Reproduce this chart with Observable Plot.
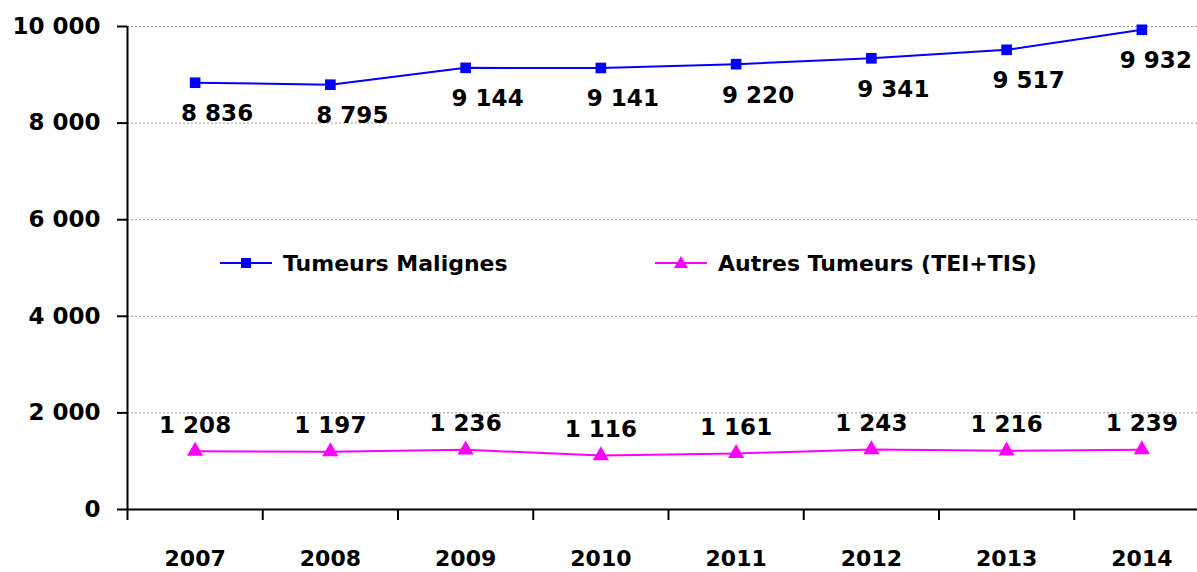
<!DOCTYPE html>
<html>
<head>
<meta charset="utf-8">
<script src="https://cdn.jsdelivr.net/npm/d3@7"></script>
<script src="https://cdn.jsdelivr.net/npm/@observablehq/plot@0.6"></script>
<style>
  body { margin: 0; background: #fff; }
  #wrap { position: relative; width: 1197px; height: 572px; overflow: hidden; }
  #legend { position: absolute; left: 0; top: 0; pointer-events: none; }
  svg text { font-family: "DejaVu Sans", sans-serif; font-weight: bold; }
</style>
</head>
<body>
<div id="wrap"></div>
<script>
const years = [2007, 2008, 2009, 2010, 2011, 2012, 2013, 2014];
const malignes = [8836, 8795, 9144, 9141, 9220, 9341, 9517, 9932];
const autres = [1208, 1197, 1236, 1116, 1161, 1243, 1216, 1239];
const yTicks = [0, 2000, 4000, 6000, 8000, 10000];
const seriesNames = ["Tumeurs Malignes", "Autres Tumeurs (TEI+TIS)"];
const seriesColors = ["#0000FF", "#FF00FF"];

const fmt = n => d3.format(",")(n).replace(/,/g, " ");
const dataM = years.map((y, i) => ({year: y, value: malignes[i]}));
const dataA = years.map((y, i) => ({year: y, value: autres[i]}));
const bounds = years.map(y => y - 0.5).concat([years[years.length - 1] + 0.5]);
const lastYear = years[years.length - 1];

const chart = Plot.plot({
  width: 1197,
  height: 572,
  marginTop: 26,
  marginBottom: 63,
  marginLeft: 127,
  marginRight: 0,
  style: {fontFamily: "DejaVu Sans, sans-serif", fontWeight: "bold", fontSize: "22px", color: "#000", background: "#fff", overflow: "visible"},
  x: {type: "linear", domain: [bounds[0], bounds[bounds.length - 1]], range: [127, 1209]},
  y: {domain: [0, 10000]},
  marks: [
    Plot.gridY(yTicks.filter(d => d > 0), {stroke: "#999", strokeOpacity: 1, strokeDasharray: "2,2", strokeWidth: 1}),
    Plot.axisY({ticks: yTicks, tickFormat: fmt, tickSize: 10, tickPadding: 17, stroke: "#000", strokeWidth: 2, label: null, fontSize: 23, fontWeight: "bold"}),
    Plot.axisX({ticks: bounds, tickFormat: () => "", tickSize: 11, stroke: "#000", strokeWidth: 2, label: null}),
    Plot.axisX({ticks: years, tickFormat: d => String(d), tickSize: 0, tickPadding: 41, label: null, fontSize: 22, fontWeight: "bold"}),
    Plot.ruleX([bounds[0]], {stroke: "#000", strokeWidth: 2}),
    Plot.ruleY([0], {stroke: "#000", strokeWidth: 2}),
    Plot.line(dataM, {x: "year", y: "value", stroke: seriesColors[0], strokeWidth: 2}),
    Plot.dot(dataM, {x: "year", y: "value", symbol: "square", r: 6, fill: seriesColors[0], stroke: "none"}),
    Plot.line(dataA, {x: "year", y: "value", stroke: seriesColors[1], strokeWidth: 2}),
    Plot.dot(dataA, {x: "year", y: "value", symbol: "triangle", r: 6, fill: seriesColors[1], stroke: "none"}),
    Plot.text(dataM.filter(d => d.year !== lastYear), {x: "year", y: "value", text: d => fmt(d.value), dx: 22, dy: 31, fill: "#000", fontSize: 23, fontWeight: "bold"}),
    Plot.text(dataM.filter(d => d.year === lastYear), {x: "year", y: "value", text: d => fmt(d.value), dx: 14, dy: 31, fill: "#000", fontSize: 23, fontWeight: "bold"}),
    Plot.text(dataA, {x: "year", y: "value", text: d => fmt(d.value), dx: 0, dy: -26, fill: "#000", fontSize: 23, fontWeight: "bold"})
  ]
});

const wrap = document.getElementById("wrap");
wrap.appendChild(chart);

// Legend overlay
const lg = d3.select(wrap).append("svg").attr("id", "legend").attr("width", 1197).attr("height", 572);
const items = [
  {x: 220, name: seriesNames[0], color: seriesColors[0], sym: "square"},
  {x: 655, name: seriesNames[1], color: seriesColors[1], sym: "triangle"}
];
items.forEach(it => {
  const g = lg.append("g").attr("transform", `translate(${it.x},263)`);
  g.append("line").attr("x1", 0).attr("x2", 52).attr("y1", 0).attr("y2", 0).attr("stroke", it.color).attr("stroke-width", 2);
  if (it.sym === "square") {
    g.append("rect").attr("x", 21).attr("y", -5).attr("width", 10).attr("height", 10).attr("fill", it.color);
  } else {
    g.append("path").attr("d", "M26,-7 L33,5 L19,5 Z").attr("fill", it.color);
  }
  g.append("text").attr("x", 63).attr("y", 0).attr("dy", "0.35em").attr("font-size", 22).attr("fill", "#000").text(it.name);
});
</script>
</body>
</html>
